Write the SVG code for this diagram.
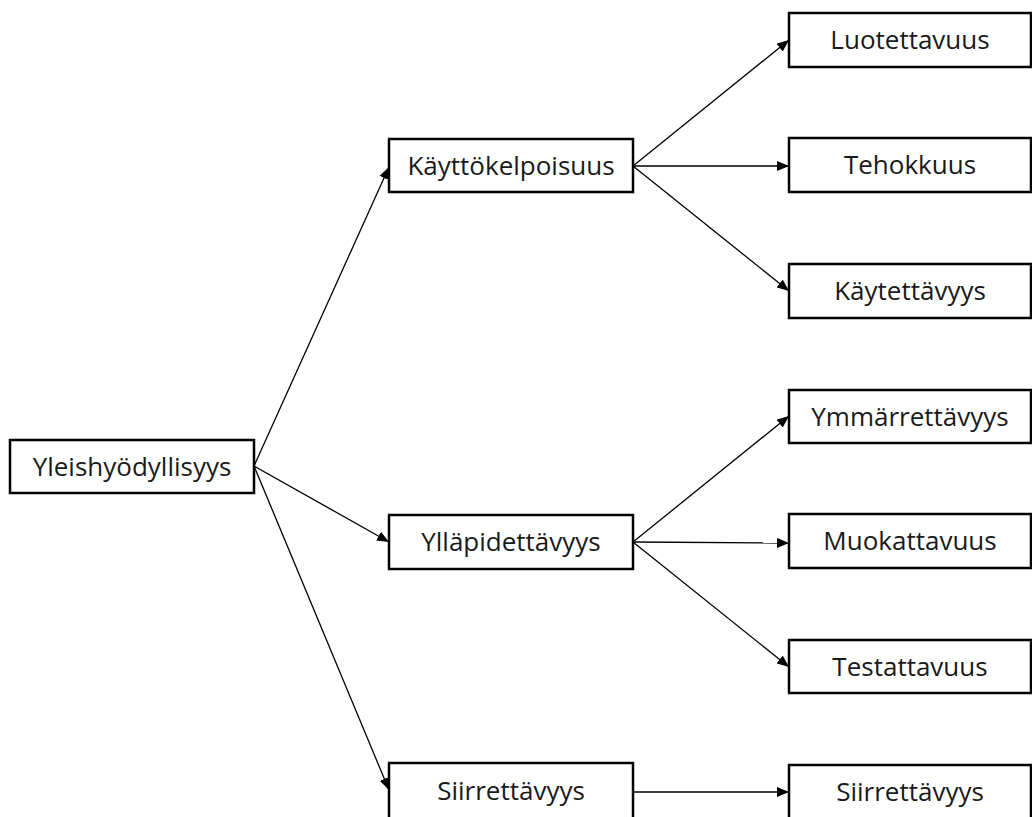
<svg xmlns="http://www.w3.org/2000/svg" width="1032" height="817" viewBox="0 0 1032 817">
  <defs>
    <marker id="arrow" viewBox="0 0 12 10" refX="12" refY="5" markerWidth="12" markerHeight="10" markerUnits="userSpaceOnUse" orient="auto">
      <path d="M0,0 L12,5 L0,10 Z" fill="#000"/>
    </marker>
    <style>
      .box { fill: #fff; stroke: #000; stroke-width: 2.5; }
      .label { font-family: "Open Sans", "Liberation Sans", sans-serif; font-size: 26px; fill: #1a1a1a; text-anchor: middle; }
      .edge { stroke: #000; stroke-width: 1.3; fill: none; marker-end: url(#arrow); }
    </style>
  </defs>
  <rect width="1032" height="817" fill="#fff"/>

  <g id="connectors">
    <line class="edge" x1="254" y1="466" x2="389" y2="167"/>
    <line class="edge" x1="254" y1="466" x2="389" y2="542"/>
    <line class="edge" x1="254" y1="466" x2="389" y2="790"/>
    <line class="edge" x1="633" y1="166" x2="789" y2="40"/>
    <line class="edge" x1="633" y1="166" x2="789" y2="166"/>
    <line class="edge" x1="633" y1="166" x2="789" y2="291"/>
    <line class="edge" x1="633" y1="542" x2="789" y2="416"/>
    <line class="edge" x1="633" y1="542" x2="789" y2="543"/>
    <line class="edge" x1="633" y1="542" x2="789" y2="667"/>
    <line class="edge" x1="633" y1="792" x2="789" y2="792"/>
  </g>

  <g id="yleishyodyllisyys">
    <rect class="box" x="10" y="440" width="244" height="53"/>
    <text class="label" x="132" y="476">Yleishyödyllisyys</text>
  </g>

  <g id="kayttokelpoisuus">
    <rect class="box" x="389" y="139" width="244" height="53"/>
    <text class="label" x="511" y="175">Käyttökelpoisuus</text>
  </g>
  <g id="yllapidettavyys">
    <rect class="box" x="389" y="515" width="244" height="54"/>
    <text class="label" x="511" y="551">Ylläpidettävyys</text>
  </g>
  <g id="siirrettavyys">
    <rect class="box" x="389" y="763" width="244" height="56"/>
    <text class="label" x="511" y="800">Siirrettävyys</text>
  </g>

  <g id="luotettavuus">
    <rect class="box" x="789" y="13" width="242" height="54"/>
    <text class="label" x="910" y="49">Luotettavuus</text>
  </g>
  <g id="tehokkuus">
    <rect class="box" x="789" y="138" width="242" height="54"/>
    <text class="label" x="910" y="174">Tehokkuus</text>
  </g>
  <g id="kaytettavyys">
    <rect class="box" x="789" y="264" width="242" height="54"/>
    <text class="label" x="910" y="300">Käytettävyys</text>
  </g>
  <g id="ymmarrettavyys">
    <rect class="box" x="789" y="390" width="242" height="53"/>
    <text class="label" x="910" y="426">Ymmärrettävyys</text>
  </g>
  <g id="muokattavuus">
    <rect class="box" x="789" y="514" width="242" height="54"/>
    <text class="label" x="910" y="550">Muokattavuus</text>
  </g>
  <g id="testattavuus">
    <rect class="box" x="789" y="640" width="242" height="53"/>
    <text class="label" x="910" y="676">Testattavuus</text>
  </g>
  <g id="siirrettavyys-2">
    <rect class="box" x="789" y="765" width="242" height="54"/>
    <text class="label" x="910" y="801">Siirrettävyys</text>
  </g>
</svg>
